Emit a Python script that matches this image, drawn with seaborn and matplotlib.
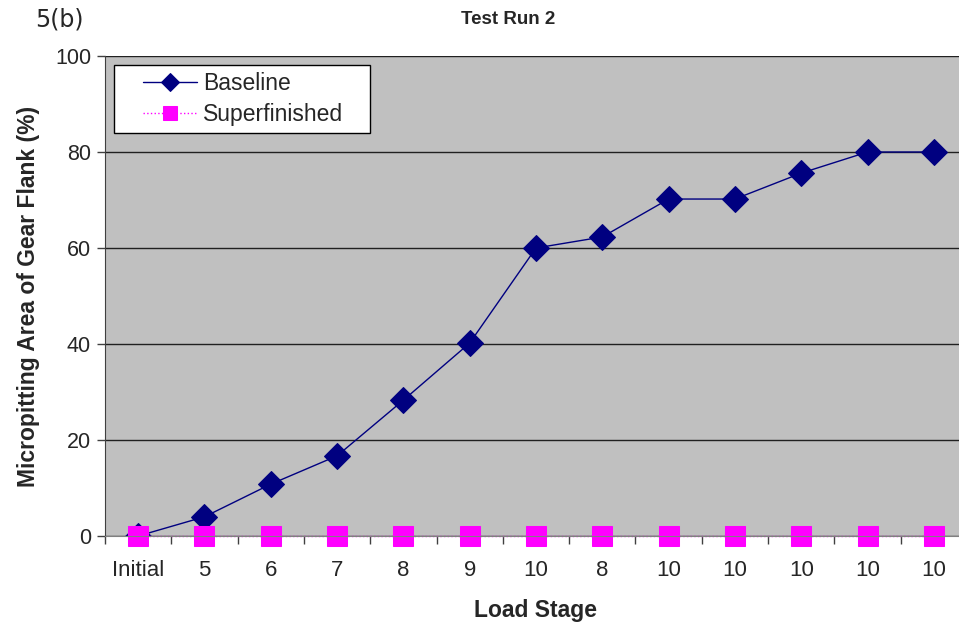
import numpy as np
import pandas as pd
import seaborn as sns
import matplotlib.pyplot as plt
from matplotlib.ticker import FixedLocator
from matplotlib.legend_handler import HandlerLine2D

# data
stages = ['Initial', '5', '6', '7', '8', '9', '10', '8', '10', '10', '10', '10', '10']
baseline = [0, 4, 10.8, 16.7, 28.3, 40.2, 60, 62.3, 70.2, 70.2, 75.6, 80, 80]
superfinished = [0, 0, 0, 0, 0, 0, 0, 0, 0, 0, 0, 0, 0]

df = pd.DataFrame({'pos': np.arange(len(stages)),
                   'Baseline': baseline,
                   'Superfinished': superfinished})

sns.set_style('white')
plt.rcParams['font.family'] = ['Liberation Sans', 'DejaVu Sans']

fig = plt.figure(figsize=(9.59, 6.3), dpi=100)
ax = fig.add_axes([105 / 959, 1 - 536 / 630, 862 / 959, 480 / 630])
ax.set_facecolor('#c0c0c0')

sns.lineplot(data=df, x='pos', y='Baseline', ax=ax, color='#000080', lw=1,
             marker='D', markersize=13, markeredgecolor='#000080',
             label='Baseline', sort=False)
sns.lineplot(data=df, x='pos', y='Superfinished', ax=ax, color='#ff00ff', lw=1,
             linestyle=':', marker='s', markersize=15, markeredgecolor='#ff00ff',
             label='Superfinished', sort=False, clip_on=False)

ax.set_xlim(-0.5, len(stages) - 0.5)
ax.set_ylim(0, 100)
ax.set_yticks([0, 20, 40, 60, 80, 100])
ax.yaxis.grid(True, color='#202020', lw=1)
ax.set_axisbelow(True)

ax.set_xticks(np.arange(len(stages)))
ax.set_xticklabels(stages)
ax.xaxis.set_minor_locator(FixedLocator(np.arange(len(stages) + 1) - 0.5))
ax.tick_params(axis='x', which='major', length=0, pad=17, labelsize=16)
ax.tick_params(axis='x', which='minor', length=6, width=1, color='#404040', direction='out', bottom=True)
ax.tick_params(axis='y', length=6, width=1, color='#404040', direction='out', left=True, labelsize=15.5, pad=4)

for s in ['top', 'right']:
    ax.spines[s].set_visible(False)
ax.spines['left'].set_color('#404040')
ax.spines['bottom'].set_color('#808080')

ax.set_xlabel('Load Stage', fontsize=16.5, fontweight='bold', labelpad=13)
ax.set_ylabel('Micropitting Area of Gear Flank (%)', fontsize=16.5, fontweight='bold', labelpad=11)

fig.text(508 / 959, 1 - 19 / 630, 'Test Run 2', ha='center', va='center', fontsize=13.5, fontweight='bold')
fig.text(35 / 959, 1 - 19 / 630, '5(b)', ha='left', va='center', fontsize=17, family='DejaVu Sans')

# legend: handle pushed right inside a wider white box
h, l = ax.get_legend_handles_labels()
leg = ax.legend(h, l, loc='upper left', bbox_to_anchor=(9 / 862, 0, 256 / 862, 0.981),
                mode='expand', borderaxespad=0,
                fancybox=False, framealpha=1, edgecolor='black', fontsize=16.5,
                handlelength=3.3, handletextpad=0.3, borderpad=0.3,
                labelspacing=0.35, markerscale=0.7,
                handler_map={hh: HandlerLine2D(xpad=0.95) for hh in h})
leg.get_frame().set_linewidth(1)

fig.savefig('out.png', dpi=100)
